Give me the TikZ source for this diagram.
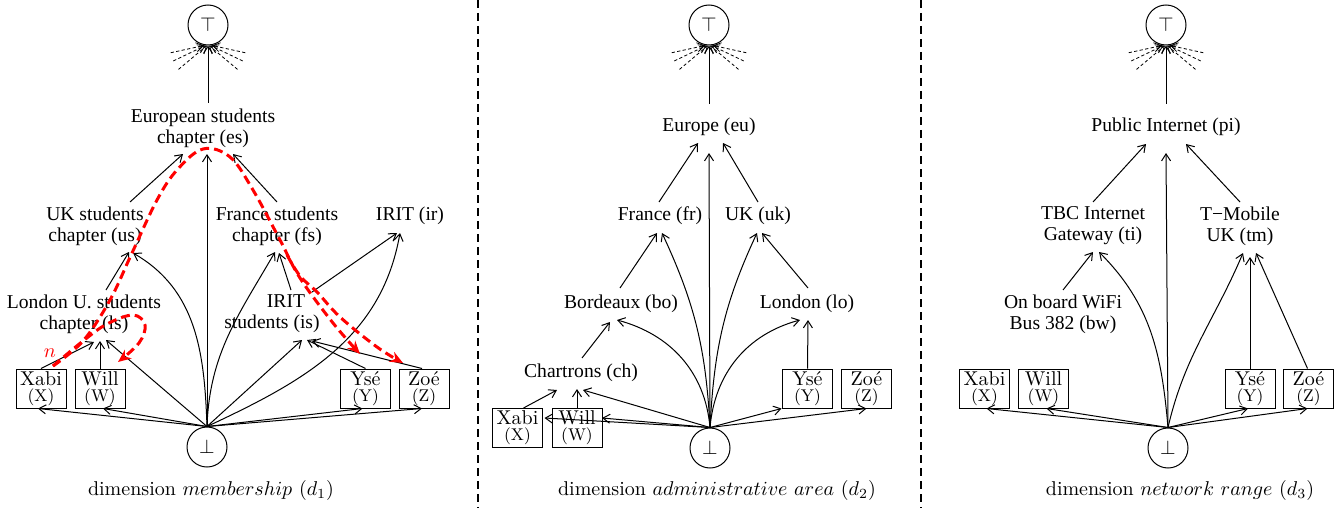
\documentclass[tikz,border=0pt]{standalone}
\usepackage{fontspec}
\newfontfamily\tms{Liberation Serif}
\usetikzlibrary{arrows.meta,calc}
\begin{document}
\begin{tikzpicture}[x=0.5pt,y=-0.5pt,line width=0.5pt,
  lbl/.style={font=\tms\fontsize{9.8}{10.5}\selectfont, align=center, inner sep=0pt},
  box/.style={draw, inner sep=0pt, minimum width=25pt, minimum height=19.5pt, align=center, font=\fontsize{10}{8}\selectfont},
  circ/.style={draw, circle, minimum size=20pt, inner sep=0pt, font=\fontsize{10}{10}\selectfont},
  captext/.style={font=\fontsize{10}{12}\selectfont, inner sep=0pt},
  arr/.style={-{Straight Barb[length=3.5pt,width=4.5pt]}},
  ray/.style={arr, dash pattern=on 1.6pt off 1.2pt, line width=0.4pt},
  redp/.style={draw=red, line width=1.5pt, dash pattern=on 4.5pt off 2.5pt, -{Stealth[length=6.5pt,width=5.5pt]}},
  sep/.style={line width=0.8pt, dash pattern=on 4pt off 2.5pt}
]
\useasboundingbox (0,0) rectangle (1343,508);
\newcommand{\sm}[1]{{\fontsize{8.5}{8}\selectfont #1}}

% separators
\draw[sep] (478,0) -- (478,508);
\draw[sep] (921,0) -- (921,508);

% ---------- panel 1 ----------
\node[circ] (T1) at (208,25) {$\top$};
\node[lbl] (es) at (203,128) {European students\\chapter (es)};
\node[lbl] (us) at (95,226) {UK students\\chapter (us)};
\node[lbl] (fs) at (277,226) {France students\\chapter (fs)};
\node[lbl] (ir) at (410,216) {IRIT (ir)};
\node[lbl] (ls) at (84,314) {London U. students\\chapter (ls)};
\node[lbl] (is) at (272,314) {\hspace*{14pt}IRIT\\students (is)};
\node[box] (X1) at (41,388.5) {Xabi\\\sm{(X)}};
\node[box] (W1) at (100,388.5) {Will\\\sm{(W)}};
\node[box] (Y1) at (365.5,388.5) {Ysé\\\sm{(Y)}};
\node[box] (Z1) at (424,388.5) {Zoé\\\sm{(Z)}};
\node[circ] (B1) at (207,447) {$\bot$};
\node[captext] (c1) at (211,490) {dimension $membership$ ($d_1$)};

\foreach \a/\d in {169/-4,156/-2.5,141/-1,11/4,24/2.5,39/1}
  \draw[ray] ($(T1.south)+(\a:38)$) -- ($(T1.south)+(\d,0)$);
\draw[arr] ($(es)+(5,-25)$) -- (T1.south);
\draw[arr] ($(us)+(35,-24)$) -- ($(es)+(-20,26)$);
\draw[arr] ($(fs)+(0,-24)$) -- ($(es)+(30,26)$);
\draw[arr] ($(ls)+(22,-24)$) -- ($(us)+(34,26)$);
\draw[arr] (X1.north) -- ($(ls)+(10,28)$);
\draw[arr] (W1.north) -- ($(ls)+(16,27)$);
\draw[arr] (B1.north) -- ($(ls)+(22,26)$);
\draw[arr] (B1.north) to[out=92,in=-30] ($(us)+(38,27)$);
\draw[arr] (B1.north) -- ($(es)+(4,26)$);
\draw[arr] (B1.north) to[out=88,in=-120] ($(fs)+(-2,26)$);
\draw[arr] ($(is)+(19,-24)$) -- ($(fs)+(2,27)$);
\draw[arr] (B1.north) -- ($(is)+(30,26)$);
\draw[arr] ($(is)+(40,-22)$) -- ($(ir)+(-13,17)$);
\draw[arr] (B1.north) to[out=25,in=-100] ($(ir)+(-10,17)$);
\draw[arr] (Y1.north) -- ($(is)+(35,26)$);
\draw[arr] ($(Z1.north)+(-2,0)$) -- ($(is)+(40,27)$);
\draw[arr] (B1.north) -- ($(X1)+(-3,20)$);
\draw[arr] (B1.north) -- ($(W1)+(3,20)$);
\draw[arr] (B1.north) -- ($(Y1)+(-3,20)$);
\draw[arr] (B1.north) -- ($(Z1)+(-2,20)$);

% red paths
\draw[redp] plot[smooth, tension=0.6] coordinates {(53,366) (83,341) (110,300) (132,253) (157,200) (177,170) (203,149) (230,157) (253,190) (280,240) (300,278) (333,323) (360,354)};
\draw[redp] plot[smooth, tension=0.6] coordinates {(287,255) (300,276) (317,292) (340,317) (377,347) (403,363)};
\draw[redp] plot[smooth, tension=0.6] coordinates {(53,366) (83,341) (107,324) (133,315) (145,325) (139,343) (118,362)};
\node[text=red, inner sep=0pt, font=\fontsize{10}{10}\selectfont] (n) at (50,353) {$n$};

% ---------- panel 2 ----------
\node[circ] (T2) at (709,25) {$\top$};
\node[lbl] (eu) at (709,127) {Europe (eu)};
\node[lbl] (fr) at (660,216) {France (fr)};
\node[lbl] (uk) at (758,216) {UK (uk)};
\node[lbl] (bo) at (621,304) {Bordeaux (bo)};
\node[lbl] (lo) at (807,304) {London (lo)};
\node[lbl] (ch) at (581,373) {Chartrons (ch)};
\node[box] (X2) at (517.5,428) {Xabi\\\sm{(X)}};
\node[box] (W2) at (577,428) {Will\\\sm{(W)}};
\node[box] (Y2) at (807.5,388.5) {Ysé\\\sm{(Y)}};
\node[box] (Z2) at (866.5,388.5) {Zoé\\\sm{(Z)}};
\node[circ] (B2) at (710,448) {$\bot$};
\node[captext] (c2) at (717,490) {dimension $administrative\ area$ ($d_2$)};

\foreach \a/\d in {169/-4,156/-2.5,141/-1,11/4,24/2.5,39/1}
  \draw[ray] ($(T2.south)+(\a:38)$) -- ($(T2.south)+(\d,0)$);
\draw[arr] ($(eu)+(0,-23)$) -- (T2.south);
\draw[arr] ($(fr)+(-1,-14)$) -- ($(eu)+(-11,16)$);
\draw[arr] ($(uk)+(0,-14)$) -- ($(eu)+(14,16)$);
\draw[arr] (B2.north) -- ($(eu)+(0,26)$);
\draw[arr] (B2.north) to[out=93,in=-65] ($(fr)+(2,17)$);
\draw[arr] (B2.north) to[out=87,in=-115] ($(uk)+(-1,17)$);
\draw[arr] ($(bo)+(-1,-16)$) -- ($(fr)+(-3,17)$);
\draw[arr] ($(lo)+(1,-16)$) -- ($(uk)+(4,17)$);
\draw[arr] (B2.north) to[out=95,in=-15] ($(bo)+(-4,16)$);
\draw[arr] (B2.north) to[out=85,in=-165] ($(lo)+(-7,16)$);
\draw[arr] ($(ch)+(1,-15)$) -- ($(bo)+(-11,18)$);
\draw[arr] ($(X2.north)+(6,0)$) -- ($(ch)+(-24,17)$);
\draw[arr] (W2.north) -- ($(ch)+(-4,16)$);
\draw[arr] (B2.north) -- ($(ch)+(2,17)$);
\draw[arr] (B2.north) -- ($(W2)+(25,-10)$);
\draw[arr] (B2.north) -- ($(X2)+(27,-10)$);
\draw[arr] (B2.north) -- ($(Y2)+(-26,20)$);
\draw[arr] (B2.north) -- ($(Z2)+(0,20)$);
\draw[arr] (Y2.north) -- ($(lo)+(1,16)$);

% ---------- panel 3 ----------
\node[circ] (T3) at (1166,25) {$\top$};
\node[lbl] (pi) at (1166,127) {Public Internet (pi)};
\node[lbl] (ti) at (1093,226) {TBC Internet\\Gateway (ti)};
\node[lbl] (tm) at (1240,226) {T−Mobile\\UK (tm)};
\node[lbl] (bw) at (1063,314) {On board WiFi\\Bus 382 (bw)};
\node[box] (X3) at (984.5,388.5) {Xabi\\\sm{(X)}};
\node[box] (W3) at (1043.5,388.5) {Will\\\sm{(W)}};
\node[box] (Y3) at (1250,388.5) {Ysé\\\sm{(Y)}};
\node[box] (Z3) at (1308.5,388.5) {Zoé\\\sm{(Z)}};
\node[circ] (B3) at (1168,448) {$\bot$};
\node[captext] (c3) at (1180,490) {dimension $network\ range$ ($d_3$)};

\foreach \a/\d in {169/-4,156/-2.5,141/-1,11/4,24/2.5,39/1}
  \draw[ray] ($(T3.south)+(\a:38)$) -- ($(T3.south)+(\d,0)$);
\draw[arr] ($(pi)+(0,-23)$) -- (T3.south);
\draw[arr] ($(ti)+(0,-24)$) -- ($(pi)+(-20,17)$);
\draw[arr] ($(tm)+(0,-24)$) -- ($(pi)+(20,17)$);
\draw[arr] (B3.north) -- ($(pi)+(0,26)$);
\draw[arr] ($(bw)+(0,-24)$) -- ($(ti)+(0,26)$);
\draw[arr] (B3.north) to[out=95,in=-45] ($(ti)+(6,26)$);
\draw[arr] (B3.north) to[out=77,in=-113] ($(tm)+(3,27)$);
\draw[arr] (Y3.north) -- ($(tm)+(10,31)$);
\draw[arr] ($(Z3.north)+(-1,0)$) -- ($(tm)+(16,27)$);
\draw[arr] (B3.north) -- ($(X3)+(2,20)$);
\draw[arr] (B3.north) -- ($(W3)+(3,20)$);
\draw[arr] (B3.north) -- ($(Y3)+(-2,20)$);
\draw[arr] (B3.north) -- ($(Z3)+(-1,20)$);
\end{tikzpicture}
\end{document}
